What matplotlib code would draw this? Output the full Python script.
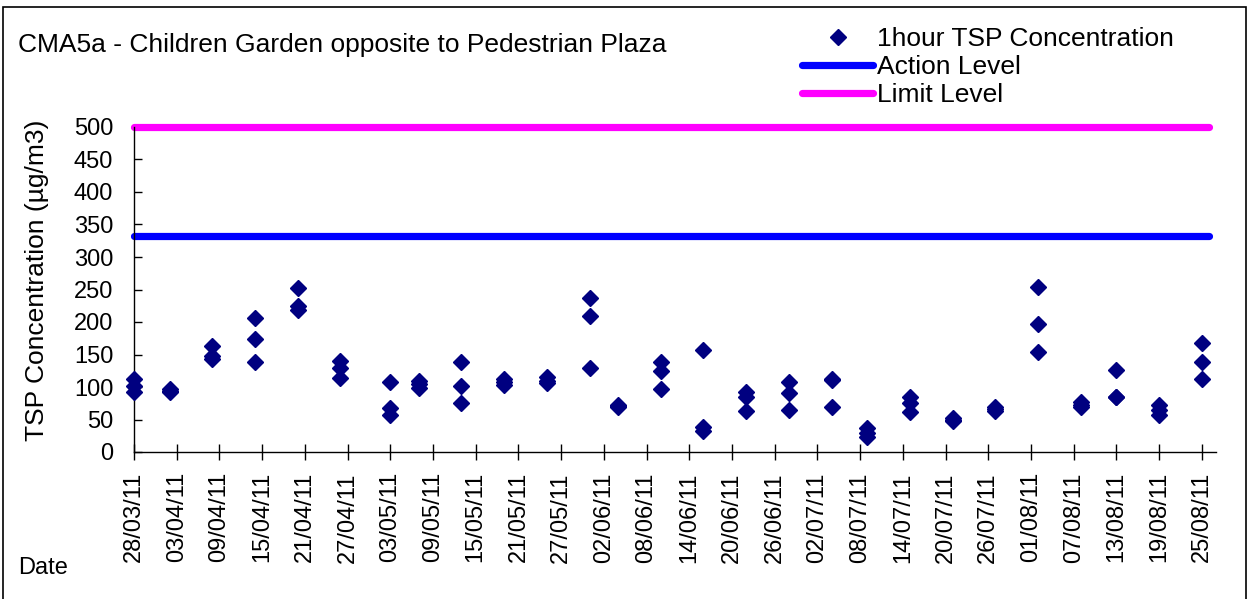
import datetime as dt
import matplotlib
matplotlib.use("Agg")
import matplotlib.pyplot as plt
import matplotlib.dates as mdates
from matplotlib.patches import Rectangle

plt.rcParams['font.family'] = ['Liberation Sans', 'DejaVu Sans']

# ---------------------------------------------------------------- data
sample_dates = ['28/03/11', '02/04/11', '08/04/11', '14/04/11', '20/04/11', '26/04/11',
                '03/05/11', '07/05/11', '13/05/11', '19/05/11', '25/05/11', '31/05/11',
                '04/06/11', '10/06/11', '16/06/11', '22/06/11', '28/06/11', '04/07/11',
                '09/07/11', '15/07/11', '21/07/11', '27/07/11', '02/08/11', '08/08/11',
                '13/08/11', '19/08/11', '25/08/11']
tsp_1st = [113, 97, 163, 206, 252, 140, 108, 110, 138, 113, 116, 237, 72, 139,
           157, 92, 107, 113, 37, 85, 53, 69, 254, 77, 126, 72, 168]
tsp_2nd = [101, 94, 148, 174, 224, 129, 68, 104, 102, 107, 109, 210, 71, 124,
           39, 85, 91, 111, 30, 75, 50, 66, 197, 73, 85, 65, 138]
tsp_3rd = [93, 92, 143, 138, 219, 114, 57, 98, 76, 103, 106, 130, 70, 97,
           32, 63, 64, 70, 23, 62, 47, 63, 154, 70, 84, 57, 112]
action_level = 332
limit_level = 500
level_dates = ['28/03/11', '26/08/11']
# ----------------------------------------------------------------------

def d(s):
    return dt.datetime.strptime(s, '%d/%m/%y')

W, H = 1254, 599
fig = plt.figure(figsize=(W / 100, H / 100), dpi=100)
ax = fig.add_axes([134 / W, 1 - 452 / H, (1216 - 134) / W, (452 - 127) / H])

xs = [d(s) for s in sample_dates]
lx = [d(s) for s in level_dates]

navy = '#000080'
ln_a, = ax.plot(lx, [action_level] * len(lx), color='#0000FF', lw=5.2,
                solid_capstyle='round', clip_on=False, label='Action Level', zorder=2)
ln_l, = ax.plot(lx, [limit_level] * len(lx), color='#FF00FF', lw=5.2,
                solid_capstyle='round', clip_on=False, label='Limit Level', zorder=2)
pts = None
for vals in (tsp_1st, tsp_2nd, tsp_3rd):
    pts, = ax.plot(xs, vals, linestyle='none', marker='D', ms=8, color=navy,
                   mec=navy, clip_on=False, label='1hour TSP Concentration', zorder=3)

start = d('28/03/11')
ax.set_xlim(start, start + dt.timedelta(days=152))
ax.set_ylim(0, 500)
ax.set_yticks(range(0, 501, 50))
ticks = [start + dt.timedelta(days=6 * i) for i in range(26)]
ax.set_xticks(ticks)
ax.xaxis.set_major_formatter(mdates.DateFormatter('%d/%m/%y'))
ax.tick_params(axis='x', direction='inout', length=11, width=1, labelsize=17,
               labelrotation=90, pad=9)
ax.tick_params(axis='y', direction='in', length=6, width=1, labelsize=17, pad=15)
for s in ('top', 'right'):
    ax.spines[s].set_visible(False)
for s in ('left', 'bottom'):
    ax.spines[s].set_linewidth(1)

ax.set_ylabel('TSP Concentration (µg/m3)', fontsize=19)
ax.yaxis.set_label_coords(37 / W, 1 - 280 / H, transform=fig.transFigure)
ax.yaxis.label.set_va('center')

fig.text(18 / W, 1 - 45 / H, 'CMA5a - Children Garden opposite to Pedestrian Plaza',
         fontsize=19, va='center', ha='left')
fig.text(18 / W, 1 - 568 / H, 'Date', fontsize=17, va='center', ha='left')

fig.legend([pts, ln_a, ln_l], ['1hour TSP Concentration', 'Action Level', 'Limit Level'],
           loc='upper left', bbox_to_anchor=(802 / W, 1 - 27 / H), frameon=False,
           fontsize=19, handlelength=2.7, handletextpad=0.15, borderpad=0,
           borderaxespad=0, labelspacing=0.15, numpoints=1)

fig.patches.append(Rectangle((3 / W, -0.02), 1243 / W, (599 - 7) / H + 0.02,
                             transform=fig.transFigure, fill=False, lw=1.2,
                             edgecolor='black'))

fig.savefig('out.png', dpi=100)
